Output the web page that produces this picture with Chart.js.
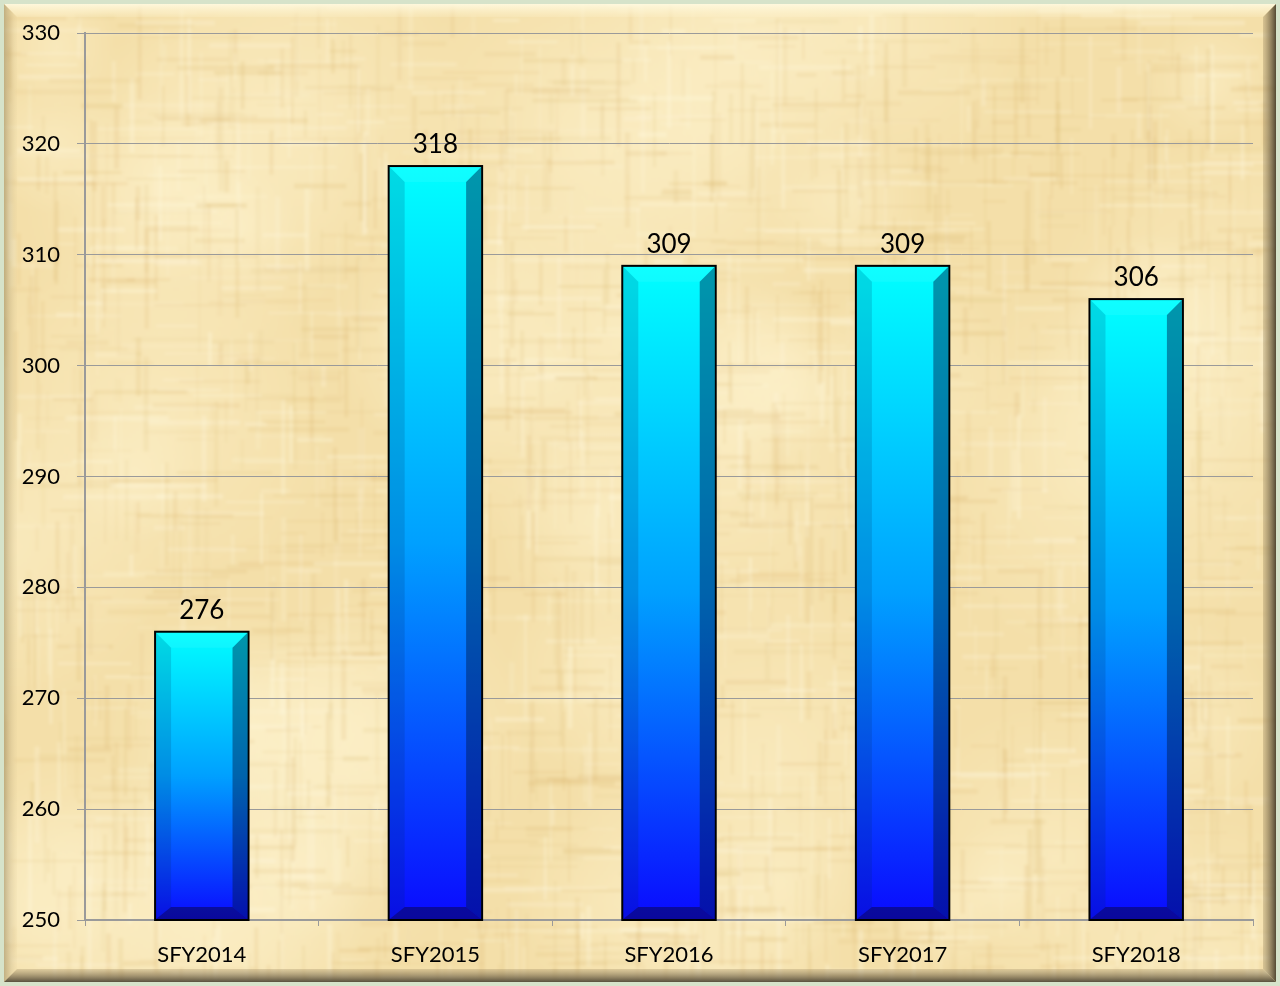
<!DOCTYPE html>
<html>
<head>
<meta charset="utf-8">
<title>SFY chart</title>
<script src="https://cdn.jsdelivr.net/npm/chart.js@4.4.1/dist/chart.umd.min.js"></script>
<style>
    html, body { margin: 0; padding: 0; background: #f3dea8; }
    #wrap { width: 1280px; height: 986px; }
</style>
</head>
<body>
<div id="wrap"><canvas id="SfyChart" width="1280" height="986"></canvas></div>
<script>
var years = ["SFY2014", "SFY2015", "SFY2016", "SFY2017", "SFY2018"];
var counts = [276, 318, 309, 309, 306];
var yMin = 250;
var yMax = 330;
var yStep = 10;

var fontName = "Lato, 'Liberation Sans', sans-serif";

// cheap repeatable hash for the paper fibres
function hash(n) {
    var s = Math.sin(n * 12.9898 + 78.233) * 43758.5453;
    return s - Math.floor(s);
}

function makePaper(w, h) {
    var raw = document.createElement("canvas");
    raw.width = w;
    raw.height = h;
    var g = raw.getContext("2d");
    g.fillStyle = "#f4dfa9";
    g.fillRect(0, 0, w, h);

    // soft light patches
    for (var i = 0; i < 50; i++) {
        var bx = hash(i * 3.1) * w, by = hash(i * 7.7 + 1) * h, br = 50 + hash(i * 5.3) * 150;
        var rg = g.createRadialGradient(bx, by, 0, bx, by, br);
        rg.addColorStop(0, "rgba(253,242,205,0.5)");
        rg.addColorStop(1, "rgba(253,242,205,0)");
        g.fillStyle = rg;
        g.fillRect(bx - br, by - br, br * 2, br * 2);
    }
    // woven fibres, short pieces both ways
    for (var k = 0; k < 2600; k++) {
        var fx = hash(k * 1.13) * w;
        var fy = hash(k * 2.71 + 5) * h;
        var len = 20 + hash(k * 3.7) * 90;
        var thick = 2 + Math.floor(hash(k * 4.9) * 4);
        var dark = hash(k * 6.1) > 0.4;
        var a = 0.05 + hash(k * 8.3) * 0.12;
        g.fillStyle = dark ? "rgba(215,175,100," + a.toFixed(3) + ")" : "rgba(255,248,222," + (a * 2).toFixed(3) + ")";
        if (k % 2 === 0) g.fillRect(fx, fy, thick, len);
        else g.fillRect(fx, fy, len, thick);
    }

    var c = document.createElement("canvas");
    c.width = w;
    c.height = h;
    var cg = c.getContext("2d");
    cg.filter = "blur(1.5px)";
    cg.drawImage(raw, 0, 0);
    return c;
}

var paperPlugin = {
    id: "paper",
    beforeDraw: function (chart) {
        var ctx = chart.ctx, w = chart.width, h = chart.height;
        if (!chart.$paper) chart.$paper = makePaper(w, h);
        ctx.save();
        ctx.drawImage(chart.$paper, 0, 0);

        // outer pale edge
        ctx.strokeStyle = "#d6e3ca";
        ctx.lineWidth = 4;
        ctx.strokeRect(2, 2, w - 4, h - 4);

        // bevelled frame
        var o = 4, b = 13;
        function quad(pts, fill) {
            ctx.beginPath();
            ctx.moveTo(pts[0], pts[1]);
            for (var i = 2; i < pts.length; i += 2) ctx.lineTo(pts[i], pts[i + 1]);
            ctx.closePath();
            ctx.fillStyle = fill;
            ctx.fill();
        }
        var gt = ctx.createLinearGradient(0, o, 0, o + b);
        gt.addColorStop(0, "rgba(255,250,225,0.9)");
        gt.addColorStop(1, "rgba(255,245,210,0.2)");
        quad([o, o, w - o, o, w - o - b, o + b, o + b, o + b], gt);

        var gl = ctx.createLinearGradient(o, 0, o + b, 0);
        gl.addColorStop(0, "rgba(150,135,95,0.55)");
        gl.addColorStop(1, "rgba(220,200,150,0.1)");
        quad([o, o, o + b, o + b, o + b, h - o - b, o, h - o], gl);

        var gr = ctx.createLinearGradient(w - o, 0, w - o - b, 0);
        gr.addColorStop(0, "rgba(75,65,45,0.95)");
        gr.addColorStop(1, "rgba(150,130,90,0.3)");
        quad([w - o, o, w - o, h - o, w - o - b, h - o - b, w - o - b, o + b], gr);

        var gb = ctx.createLinearGradient(0, h - o, 0, h - o - b);
        gb.addColorStop(0, "rgba(80,72,55,0.95)");
        gb.addColorStop(1, "rgba(160,140,100,0.3)");
        quad([o, h - o, w - o, h - o, w - o - b, h - o - b, o + b, h - o - b], gb);
        ctx.restore();
    }
};

// darker side strips give the bars a chiselled look
var bevelPlugin = {
    id: "bevel",
    afterDatasetsDraw: function (chart) {
        var ctx = chart.ctx;
        var meta = chart.getDatasetMeta(0);
        var floor = chart.scales.y.getPixelForValue(yMin);
        ctx.save();
        meta.data.forEach(function (bar) {
            var p = bar.getProps(["x", "y", "width"], true);
            var l = p.x - p.width / 2 + 1, r = p.x + p.width / 2 - 1;
            var t = p.y + 1, btm = floor - 1;
            var s = 15, sb = 12;
            function poly(pts, fill) {
                ctx.beginPath();
                ctx.moveTo(pts[0], pts[1]);
                for (var i = 2; i < pts.length; i += 2) ctx.lineTo(pts[i], pts[i + 1]);
                ctx.closePath();
                ctx.fillStyle = fill;
                ctx.fill();
            }
            poly([l, t, l + s, t + s, l + s, btm - sb, l, btm], "rgba(0,40,90,0.16)");
            poly([r, t, r, btm, r - s, btm - sb, r - s, t + s], "rgba(0,25,70,0.45)");
            poly([l, btm, l + s, btm - sb, r - s, btm - sb, r, btm], "rgba(10,5,60,0.5)");
            poly([l, t, r, t, r - s, t + s, l + s, t + s], "rgba(255,255,255,0.06)");

            ctx.strokeStyle = "#000000";
            ctx.lineWidth = 2;
            ctx.strokeRect(p.x - p.width / 2, p.y, p.width, floor - p.y);
        });
        ctx.restore();
    }
};

var valueLabels = {
    id: "valueLabels",
    afterDatasetsDraw: function (chart) {
        var ctx = chart.ctx;
        var meta = chart.getDatasetMeta(0);
        ctx.save();
        ctx.font = "26px " + fontName;
        ctx.fillStyle = "#000000";
        ctx.textAlign = "center";
        ctx.textBaseline = "alphabetic";
        meta.data.forEach(function (bar, i) {
            ctx.fillText(String(counts[i]), bar.x, bar.y - 13);
        });
        ctx.restore();
    }
};

function barFill(context) {
    var chart = context.chart;
    if (!chart.chartArea) return "#0088ff";
    var yScale = chart.scales.y;
    var top = yScale.getPixelForValue(counts[context.dataIndex]);
    var bottom = yScale.getPixelForValue(yMin);
    var grad = chart.ctx.createLinearGradient(0, top, 0, bottom);
    grad.addColorStop(0, "#00ffff");
    grad.addColorStop(0.5, "#00a0ff");
    grad.addColorStop(1, "#0a0aff");
    return grad;
}

var context = document.getElementById("SfyChart").getContext("2d");
var chart = new Chart(context, {
    type: "bar",
    data: {
        labels: years,
        datasets: [{
            data: counts,
            backgroundColor: barFill,
            borderWidth: 0,
            barPercentage: 0.4,
            categoryPercentage: 1.0
        }]
    },
    options: {
        responsive: false,
        animation: false,
        layout: { padding: { left: 0, right: 27, top: 33, bottom: 0 } },
        plugins: {
            legend: { display: false },
            tooltip: { enabled: false }
        },
        scales: {
            x: {
                grid: {
                    drawOnChartArea: false,
                    drawTicks: true,
                    tickLength: 6,
                    color: "#9a9a9a",
                    offset: true
                },
                border: { display: true, color: "#9a9a9a", width: 2 },
                ticks: {
                    font: { family: fontName, size: 22 },
                    color: "#000000",
                    padding: 16
                },
                afterFit: function (scale) { scale.height = 66; }
            },
            y: {
                min: yMin,
                max: yMax,
                ticks: {
                    stepSize: yStep,
                    font: { family: fontName, size: 22 },
                    color: "#000000",
                    padding: 17
                },
                grid: {
                    color: "#9a9a9a",
                    lineWidth: 1,
                    tickLength: 8
                },
                border: { display: true, color: "#9a9a9a", width: 2 },
                afterFit: function (scale) { scale.width = 85; }
            }
        }
    },
    plugins: [paperPlugin, bevelPlugin, valueLabels]
});
</script>
</body>
</html>
